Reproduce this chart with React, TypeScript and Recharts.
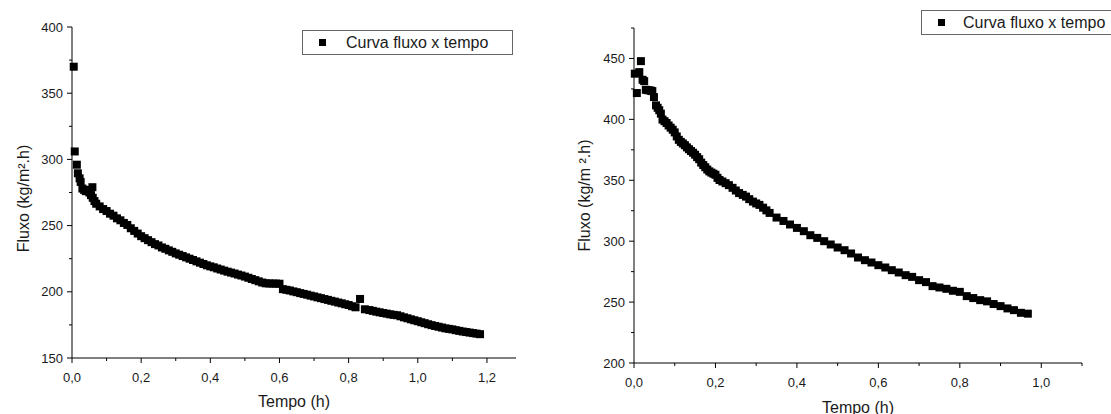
import { ScatterChart, Scatter, XAxis, YAxis, ZAxis, Legend, Label } from 'recharts'

// left run
const leftTime = [
  0.005, 0.008, 0.014, 0.017, 0.022, 0.025, 0.03, 0.035, 0.04, 0.045, 0.05, 0.055, 0.059, 0.06, 0.065, 0.07,
  0.08, 0.09, 0.1, 0.11, 0.12, 0.13, 0.14, 0.15, 0.16, 0.17, 0.18, 0.19, 0.2, 0.21, 0.22, 0.23, 0.24, 0.25,
  0.26, 0.27, 0.28, 0.29, 0.3, 0.31, 0.32, 0.33, 0.34, 0.35, 0.36, 0.37, 0.38, 0.39, 0.4, 0.41, 0.42, 0.43,
  0.44, 0.45, 0.46, 0.47, 0.48, 0.49, 0.5, 0.51, 0.52, 0.53, 0.54, 0.55, 0.56, 0.57, 0.58, 0.59, 0.6, 0.61,
  0.62, 0.63, 0.64, 0.65, 0.66, 0.67, 0.68, 0.69, 0.7, 0.71, 0.72, 0.73, 0.74, 0.75, 0.76, 0.77, 0.78, 0.79,
  0.8, 0.81, 0.82, 0.833, 0.847, 0.86, 0.87, 0.88, 0.89, 0.9, 0.91, 0.92, 0.93, 0.94, 0.95, 0.96, 0.97, 0.98,
  0.99, 1.0, 1.01, 1.02, 1.03, 1.04, 1.05, 1.06, 1.07, 1.08, 1.09, 1.1, 1.11, 1.12, 1.13, 1.14, 1.15, 1.16,
  1.17, 1.18,
]
const leftFlux = [
  370, 306, 296, 289.5, 285.7, 283, 278, 277, 276, 277, 275, 273, 279, 271, 268.5, 266.5,
  264.5, 262.5, 261, 259, 257.5, 255.5, 254, 252, 250.5, 248, 246, 244, 242, 240.5, 239, 237.5, 236, 235,
  233.5, 232.5, 231.3, 230.2, 229, 228, 227, 226, 225, 224, 223, 222, 221, 220, 219.2, 218.5, 217.6, 216.8,
  216, 215.2, 214.5, 213.8, 213, 212.3, 211.5, 210.6, 209.7, 208.8, 207.9, 207, 206.4, 206.3, 206.2, 206.2, 206.1, 202,
  201.5, 201, 200.3, 199.7, 199, 198.4, 197.8, 197.1, 196.5, 195.8, 195.2, 194.5, 193.9, 193.2, 192.6, 191.9, 191.3, 190.6,
  190, 189.1, 188.3, 194.6, 186.8, 186.2, 185.6, 185, 184.5, 184, 183.5, 183, 182.6, 182.3, 181.5, 180.7, 180, 179.2,
  178.5, 177.8, 177, 176.3, 175.5, 174.8, 174.2, 173.6, 173, 172.4, 172, 171.6, 171, 170.5, 170, 169.6, 169.2, 168.8,
  168.4, 168,
]

// right run
const rightTime = [
  0.002, 0.007, 0.013, 0.017, 0.021, 0.025, 0.029, 0.033, 0.038, 0.042, 0.045, 0.049, 0.054, 0.058, 0.062, 0.066,
  0.07, 0.075, 0.08, 0.085, 0.09, 0.095, 0.1, 0.105, 0.11, 0.115, 0.12, 0.125, 0.13, 0.135, 0.14, 0.145, 0.15,
  0.155, 0.16, 0.165, 0.17, 0.175, 0.18, 0.185, 0.19, 0.195, 0.2, 0.205, 0.21, 0.217, 0.225, 0.233, 0.242, 0.25,
  0.258, 0.267, 0.275, 0.283, 0.292, 0.3, 0.308, 0.317, 0.325, 0.333, 0.35, 0.367, 0.383, 0.4, 0.417, 0.433,
  0.45, 0.467, 0.483, 0.5, 0.517, 0.533, 0.55, 0.567, 0.583, 0.6, 0.617, 0.633, 0.65, 0.667, 0.683, 0.7, 0.717,
  0.733, 0.75, 0.767, 0.783, 0.8, 0.817, 0.833, 0.85, 0.867, 0.883, 0.9, 0.917, 0.933, 0.95, 0.967,
]
const rightFlux = [
  437.5, 421.6, 438.8, 447.8, 432.5, 431.4, 424.3, 424, 423.8, 423.5, 423.2, 418.3, 411.5, 409.5, 407.5, 404.7,
  399.8, 398.5, 397, 395, 393.2, 391.5, 389.3, 386, 383.2, 381.5, 380.2, 378.8, 377, 375.5, 374, 372.6, 371,
  369, 367.3, 364.5, 362.5, 360.7, 358.8, 357.3, 356.3, 355.4, 354.5, 352, 350.2, 349, 347.6, 346, 343.8, 341.6,
  339.5, 338, 336.6, 334.5, 332.5, 331, 329.8, 327.5, 325.3, 323.2, 319.4, 316.6, 313.7, 310.9, 308.2, 304.9,
  302.7, 300, 297.3, 294.8, 292.6, 289.9, 286.6, 284.4, 282.5, 280.3, 278.4, 276.2, 274.3, 272.1, 270.7, 268, 266.4,
  263.1, 262, 260.9, 259.3, 258.4, 254.9, 253.3, 251.6, 250.6, 248.4, 246.7, 244.8, 243.4, 241.2, 240.5,
]

const leftXTicks = [0, 0.1, 0.2, 0.3, 0.4, 0.5, 0.6, 0.7, 0.8, 0.9, 1.0, 1.1, 1.2]
const leftXMajor = [0, 0.2, 0.4, 0.6, 0.8, 1.0, 1.2]
const leftYTicks = [150, 175, 200, 225, 250, 275, 300, 325, 350, 375, 400]
const leftYMajor = [150, 200, 250, 300, 350, 400]
const rightXTicks = [0, 0.1, 0.2, 0.3, 0.4, 0.5, 0.6, 0.7, 0.8, 0.9, 1.0, 1.1]
const rightXMajor = [0, 0.2, 0.4, 0.6, 0.8, 1.0]
const rightYTicks = [200, 225, 250, 275, 300, 325, 350, 375, 400, 425, 450, 475]
const rightYMajor = [200, 250, 300, 350, 400, 450]

const leftData = leftTime.map((t, i) => ({ t, f: leftFlux[i] }))
const rightData = rightTime.map((t, i) => ({ t, f: rightFlux[i] }))

const FONT = '"Liberation Sans", Arial, sans-serif'
const INK = '#1a1a1a'

const isMajor = (list: number[], v: number) => list.some((m) => Math.abs(m - v) < 1e-6)

function xTick(majors: number[]) {
  return (props: any) => {
    const { x, y, payload } = props
    const major = isMajor(majors, payload.value)
    return (
      <g>
        <line x1={x} y1={y} x2={x} y2={y + (major ? 5 : 3)} stroke="#000" />
        {major && (
          <text x={x} y={y + 19} textAnchor="middle" dominantBaseline="central" fontSize={13} fontFamily={FONT} fill={INK}>
            {payload.value.toFixed(1).replace('.', ',')}
          </text>
        )}
      </g>
    )
  }
}

function yTick(majors: number[]) {
  return (props: any) => {
    const { x, y, payload } = props
    const major = isMajor(majors, payload.value)
    return (
      <g>
        <line x1={x - (major ? 5 : 3)} y1={y} x2={x} y2={y} stroke="#000" />
        {major && (
          <text x={x - 9} y={y} textAnchor="end" dominantBaseline="central" fontSize={13} fontFamily={FONT} fill={INK}>
            {payload.value}
          </text>
        )}
      </g>
    )
  }
}

function xTitle(text: string, dy: number) {
  return (props: any) => {
    const { x, y, width } = props.viewBox
    return (
      <text x={x + width / 2} y={y + dy} textAnchor="middle" dominantBaseline="central" fontSize={16} fontFamily={FONT} fill={INK}>
        {text}
      </text>
    )
  }
}

function yTitle(text: string, cx: number, shift: number) {
  return (props: any) => {
    const { y, height } = props.viewBox
    const cy = y + height / 2 + shift
    return (
      <text x={cx} y={cy} transform={`rotate(-90 ${cx} ${cy})`} textAnchor="middle" dominantBaseline="central" fontSize={16} fontFamily={FONT} fill={INK}>
        {text}
      </text>
    )
  }
}

function legendBox(width: number, padLeft: number, gap: number) {
  return (props: any) => {
    const item = props.payload && props.payload[0]
    return (
      <div
        style={{
          boxSizing: 'border-box',
          width,
          height: 25,
          border: '1px solid #666',
          background: '#fff',
          display: 'flex',
          alignItems: 'center',
          fontFamily: FONT,
          fontSize: 16,
          color: INK,
          whiteSpace: 'nowrap',
        }}
      >
        <span style={{ display: 'inline-block', width: 7, height: 7, background: '#000', marginLeft: padLeft, marginRight: gap }} />
        {item ? item.value : ''}
      </div>
    )
  }
}

export default function App() {
  return (
    <div style={{ position: 'absolute', left: 0, top: 0, width: 1111, height: 414, background: '#fff', overflow: 'hidden' }}>
      {/* Left chart */}
      <div style={{ position: 'absolute', left: 0, top: 0 }}>
        <ScatterChart width={560} height={414} margin={{ top: 27, right: 44, bottom: 0, left: 0 }}>
          <XAxis
            type="number"
            dataKey="t"
            domain={[0, 1.284]}
            ticks={leftXTicks}
            interval={0}
            height={56}
            tickSize={0}
            tickMargin={0}
            tickLine={false}
            stroke="#000"
            tick={xTick(leftXMajor)}
          >
            <Label content={xTitle('Tempo (h)', 43)} />
          </XAxis>
          <YAxis
            type="number"
            dataKey="f"
            domain={[150, 400]}
            ticks={leftYTicks}
            interval={0}
            width={72}
            tickSize={0}
            tickMargin={0}
            tickLine={false}
            stroke="#000"
            tick={yTick(leftYMajor)}
          >
            <Label content={yTitle('Fluxo (kg/m².h)', 23, 6)} />
          </YAxis>
          <ZAxis type="number" range={[25, 25]} />
          <Legend
            layout="horizontal"
            verticalAlign="middle"
            align="center"
            wrapperStyle={{ left: 302, top: 30, width: 211, height: 25 }}
            content={legendBox(211, 16, 20)}
          />
          <Scatter name="Curva fluxo x tempo" data={leftData} fill="#000" shape="square" isAnimationActive={false} />
        </ScatterChart>
      </div>

      {/* Right chart */}
      <div style={{ position: 'absolute', left: 560, top: 0 }}>
        <ScatterChart width={551} height={414} margin={{ top: 28, right: 29, bottom: 0, left: 0 }}>
          <XAxis
            type="number"
            dataKey="t"
            domain={[0, 1.1]}
            ticks={rightXTicks}
            interval={0}
            height={51}
            tickSize={0}
            tickMargin={0}
            tickLine={false}
            stroke="#000"
            tick={xTick(rightXMajor)}
          >
            <Label content={xTitle('Tempo (h)', 44)} />
          </XAxis>
          <YAxis
            type="number"
            dataKey="f"
            domain={[200, 475]}
            ticks={rightYTicks}
            interval={0}
            width={74}
            tickSize={0}
            tickMargin={0}
            tickLine={false}
            stroke="#000"
            tick={yTick(rightYMajor)}
          >
            <Label content={yTitle('Fluxo (kg/m ².h)', 24, 0)} />
          </YAxis>
          <ZAxis type="number" range={[25, 25]} />
          <Legend
            layout="horizontal"
            verticalAlign="middle"
            align="center"
            wrapperStyle={{ left: 361, top: 10, width: 200, height: 25 }}
            content={legendBox(200, 16, 18)}
          />
          <Scatter name="Curva fluxo x tempo" data={rightData} fill="#000" shape="square" isAnimationActive={false} />
        </ScatterChart>
      </div>
    </div>
  )
}
